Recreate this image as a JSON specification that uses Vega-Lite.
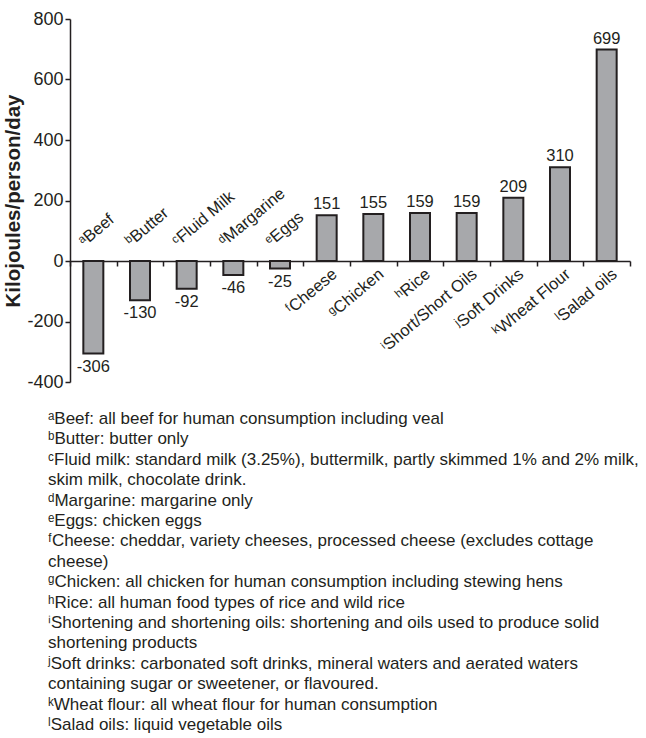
{
  "$schema": "https://vega.github.io/schema/vega-lite/v6.json",
  "width": 560,
  "height": 363,
  "autosize": {"type": "none"},
  "padding": {"left": 70, "top": 19, "right": 16, "bottom": 356},
  "config": {"font": "Liberation Sans", "view": {"stroke": null}},
  "data": {"values": [
    {"food": "ᵃBeef", "value": -306},
    {"food": "ᵇButter", "value": -130},
    {"food": "ᶜFluid Milk", "value": -92},
    {"food": "ᵈMargarine", "value": -46},
    {"food": "ᵉEggs", "value": -25},
    {"food": "ᶠCheese", "value": 151},
    {"food": "ᵍChicken", "value": 155},
    {"food": "ʰRice", "value": 159},
    {"food": "ⁱShort/Short Oils", "value": 159},
    {"food": "ʲSoft Drinks", "value": 209},
    {"food": "ᵏWheat Flour", "value": 310},
    {"food": "ˡSalad oils", "value": 699}
  ]},
  "title": {
    "text": [
      "ᵃBeef: all beef for human consumption including veal",
      "ᵇButter: butter only",
      "ᶜFluid milk: standard milk (3.25%), buttermilk, partly skimmed 1% and 2% milk,",
      "skim milk, chocolate drink.",
      "ᵈMargarine: margarine only",
      "ᵉEggs: chicken eggs",
      "ᶠCheese: cheddar, variety cheeses, processed cheese (excludes cottage",
      "cheese)",
      "ᵍChicken: all chicken for human consumption including stewing hens",
      "ʰRice: all human food types of rice and wild rice",
      "ⁱShortening and shortening oils: shortening and oils used to produce solid",
      "shortening products",
      "ʲSoft drinks: carbonated soft drinks, mineral waters and aerated waters",
      "containing sugar or sweetener, or flavoured.",
      "ᵏWheat flour: all wheat flour for human consumption",
      "ˡSalad oils: liquid vegetable oils"
    ],
    "orient": "bottom",
    "anchor": "start",
    "frame": "group",
    "align": "left",
    "baseline": "top",
    "dx": -22,
    "offset": 20,
    "fontSize": 17,
    "fontWeight": "normal",
    "lineHeight": 20.4,
    "color": "#231f20",
    "font": "Liberation Sans"
  },
  "encoding": {
    "x": {
      "field": "food",
      "type": "nominal",
      "sort": null,
      "scale": {"paddingInner": 0, "paddingOuter": 0},
      "axis": {
        "title": null,
        "labels": false,
        "offset": -121,
        "tickBand": "extent",
        "domainColor": "#231f20",
        "tickColor": "#231f20",
        "domainWidth": 1.5,
        "tickWidth": 1.5,
        "tickSize": 5
      }
    }
  },
  "layer": [
    {
      "mark": {"type": "bar", "size": 20, "fill": "#a7a8ab", "stroke": "#231f20", "strokeWidth": 2},
      "encoding": {
        "y": {
          "field": "value",
          "type": "quantitative",
          "scale": {"domain": [-400, 800], "nice": false},
          "axis": {
            "title": "Kilojoules/person/day",
            "titleFontSize": 20.5,
            "titleFontWeight": "bold",
            "titleColor": "#231f20",
            "titlePadding": 3,
            "values": [-400, -200, 0, 200, 400, 600, 800],
            "labelExpr": "datum.value + ''",
            "grid": false,
            "labelFontSize": 18,
            "labelColor": "#231f20",
            "labelPadding": 2,
            "tickSize": 5,
            "tickColor": "#231f20",
            "tickWidth": 1.5,
            "domainColor": "#231f20",
            "domainWidth": 1.5
          }
        }
      }
    },
    {
      "transform": [{"filter": "datum.value >= 0"}],
      "mark": {"type": "text", "baseline": "bottom", "dy": -3, "fontSize": 16.5, "color": "#231f20"},
      "encoding": {
        "y": {"field": "value", "type": "quantitative"},
        "text": {"field": "value", "type": "nominal"}
      }
    },
    {
      "transform": [{"filter": "datum.value < 0"}],
      "mark": {"type": "text", "baseline": "top", "dy": 5, "fontSize": 16.5, "color": "#231f20"},
      "encoding": {
        "y": {"field": "value", "type": "quantitative"},
        "text": {"field": "value", "type": "nominal"}
      }
    },
    {
      "transform": [{"filter": "datum.value < 0"}],
      "mark": {"type": "text", "align": "left", "baseline": "alphabetic", "angle": -40, "xOffset": -9, "yOffset": -14, "fontSize": 16.5, "color": "#231f20"},
      "encoding": {
        "y": {"datum": 0, "type": "quantitative"},
        "text": {"field": "food", "type": "nominal"}
      }
    },
    {
      "transform": [{"filter": "datum.value >= 0"}],
      "mark": {"type": "text", "align": "right", "baseline": "top", "angle": -40, "xOffset": 3, "yOffset": 5, "fontSize": 16.5, "color": "#231f20"},
      "encoding": {
        "y": {"datum": 0, "type": "quantitative"},
        "text": {"field": "food", "type": "nominal"}
      }
    }
  ]
}
